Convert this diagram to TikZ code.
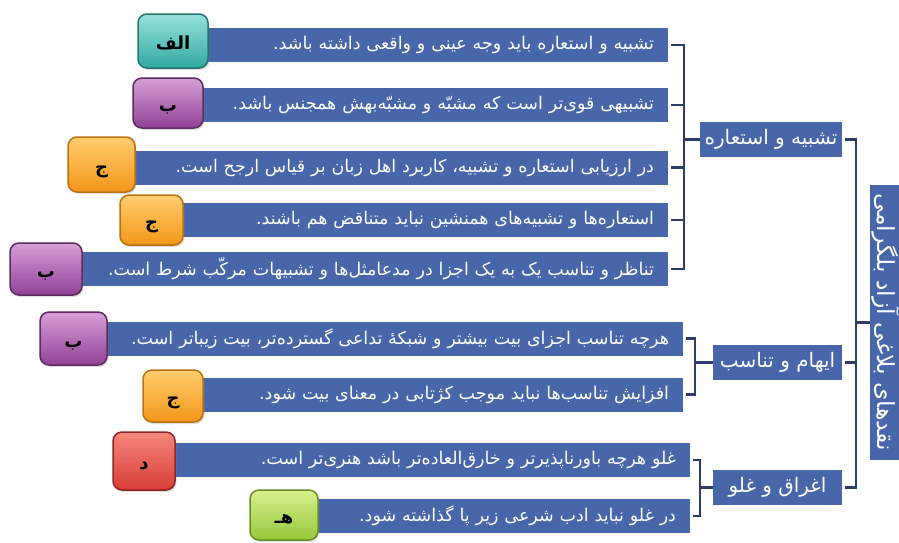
\documentclass[tikz,border=0pt]{standalone}
\usepackage{fontspec}
\usetikzlibrary{shadows}
\newfontfamily\arabicfont[Script=Arabic]{DejaVu Sans}
\TeXXeTstate=1
\newcommand{\fatxt}[1]{\beginR #1\endR}
\definecolor{barblue}{RGB}{72,103,170}
\definecolor{brknavy}{RGB}{46,61,104}
\definecolor{tealtop}{RGB}{150,225,220}
\definecolor{tealbot}{RGB}{50,170,160}
\definecolor{purptop}{RGB}{215,160,215}
\definecolor{purpbot}{RGB}{145,65,150}
\definecolor{orgtop}{RGB}{255,205,110}
\definecolor{orgbot}{RGB}{245,150,25}
\definecolor{redtop}{RGB}{245,135,125}
\definecolor{redbot}{RGB}{215,60,55}
\definecolor{grntop}{RGB}{215,240,140}
\definecolor{grnbot}{RGB}{150,200,60}

\begin{document}
\begin{tikzpicture}[x=1pt,y=-1pt]

        \tikzset{
            bar/.style={fill=barblue, text=white, inner xsep=14pt, inner ysep=0pt,
                minimum height=34pt, align=right,
                font=\arabicfont\fontsize{17.5}{20}\selectfont},
            grp/.style={fill=barblue, text=white, inner sep=0pt, minimum height=35pt,
                font=\arabicfont\fontsize{20}{23}\selectfont},
            brk/.style={draw=brknavy, line width=2.4pt, shorten <=3pt},
            tag/.style={rounded corners=9pt, line width=1.5pt, inner sep=0pt,
                text height=17pt, text depth=0pt,
                font=\arabicfont\bfseries\fontsize{18}{21}\selectfont, text=black,
                drop shadow={opacity=0.25, shadow xshift=1.5pt, shadow yshift=-2pt}},
            tagA/.style={tag, top color=tealtop, bottom color=tealbot, draw=tealbot!70!black},
            tagB/.style={tag, top color=purptop, bottom color=purpbot, draw=purpbot!65!black},
            tagC/.style={tag, top color=orgtop, bottom color=orgbot, draw=orgbot!75!black},
            tagD/.style={tag, top color=redtop, bottom color=redbot, draw=redbot!65!black},
            tagE/.style={tag, top color=grntop, bottom color=grnbot, draw=grnbot!70!black}
        }

        \useasboundingbox (0,0) rectangle (899,542);

        \node[bar, text width=435pt] (b1) at (436.5,45)
        {\fatxt{تشبیه و استعاره باید وجه عینی و واقعی داشته باشد.}};
        \node[bar, text width=442pt] (b2) at (433,105)
        {\fatxt{تشبیهی قوی‌تر است که مشبّه و مشبّه‌بهش همجنس باشد.}};
        \node[bar, text width=510pt] (b3) at (399,167.5)
        {\fatxt{در ارزیابی استعاره و تشبیه، کاربرد اهل زبان بر قیاس ارجح است.}};
        \node[bar, text width=460pt] (b4) at (424,220)
        {\fatxt{استعاره‌ها و تشبیه‌های همنشین نباید متناقض هم باشند.}};
        \node[bar, text width=560pt] (b5) at (374,269)
        {\fatxt{تناظر و تناسب یک به یک اجزا در مدعامثل‌ها و تشبیهات مرکّب شرط است.}};

        \node[bar, text width=550pt] (b6) at (394,338.5)
        {\fatxt{هرچه تناسب اجزای بیت بیشتر و شبکهٔ تداعی گسترده‌تر، بیت زیباتر است.}};
        \node[bar, text width=455pt] (b7) at (441.5,394.5)
        {\fatxt{افزایش تناسب‌ها نباید موجب کژتابی در معنای بیت شود.}};

        \node[bar, text width=490pt] (b8) at (431,460)
        {\fatxt{غلو هرچه باورناپذیرتر و خارق‌العاده‌تر باشد هنری‌تر است.}};
        \node[bar, text width=344pt] (b9) at (504,516)
        {\fatxt{در غلو نباید ادب شرعی زیر پا گذاشته شود.}};

        \node[tagA, minimum width=70pt, minimum height=54pt] (t1) at (173,41) {\fatxt{الف}};
        \node[tagB, minimum width=70pt, minimum height=50pt] (t2) at (168,103) {\fatxt{ب}};
        \node[tagC, minimum width=67pt, minimum height=55pt] (t3) at (101.5,164.5) {\fatxt{ج}};
        \node[tagC, minimum width=63pt, minimum height=50pt] (t4) at (151.5,220) {\fatxt{ج}};
        \node[tagB, minimum width=72pt, minimum height=52pt] (t5) at (46,269) {\fatxt{ب}};
        \node[tagB, minimum width=67pt, minimum height=53pt] (t6) at (73.5,338.5) {\fatxt{ب}};
        \node[tagC, minimum width=60pt, minimum height=52pt] (t7) at (173,396) {\fatxt{ج}};
        \node[tagD, minimum width=62pt, minimum height=58pt] (t8) at (144,461) {\fatxt{د}};
        \node[tagE, minimum width=68pt, minimum height=50pt] (t9) at (284,515) {\fatxt{هـ}};

        \node[grp, minimum width=142pt] (tas) at (771,139.5) {\fatxt{تشبیه و استعاره}};
        \node[grp, minimum width=129pt] (iha) at (777.5,362.5) {\fatxt{ایهام و تناسب}};
        \node[grp, minimum width=129pt] (egh) at (777.5,487.5) {\fatxt{اغراق و غلو}};

        \node[grp, minimum width=32pt, minimum height=275pt,
            font=\arabicfont\fontsize{23.5}{26}\selectfont] (root) at (886,322.5)
        {\rotatebox{-90}{\fatxt{نقدهای بلاغی آزاد بلگرامی}}};

        \draw[brk] (b1.east) -- ++(16,0) |- (tas.west);
        \draw[brk] (b2.east) -- ++(16,0) |- (tas.west);
        \draw[brk] (b3.east) -- ++(16,0) |- (tas.west);
        \draw[brk] (b4.east) -- ++(16,0) |- (tas.west);
        \draw[brk] (b5.east) -- ++(16,0) |- (tas.west);

        \draw[brk] (b6.east) -- ++(12,0) |- (iha.west);
        \draw[brk] (b7.east) -- ++(12,0) |- (iha.west);

        \draw[brk] (b8.east) -- ++(10,0) |- (egh.west);
        \draw[brk] (b9.east) -- ++(10,0) |- (egh.west);

        \draw[brk] (tas.east) -- ++(14,0) |- (root.west);
        \draw[brk] (iha.east) -- ++(14,0) |- (root.west);
        \draw[brk] (egh.east) -- ++(14,0) |- (root.west);

    \end{tikzpicture}
\end{document}
